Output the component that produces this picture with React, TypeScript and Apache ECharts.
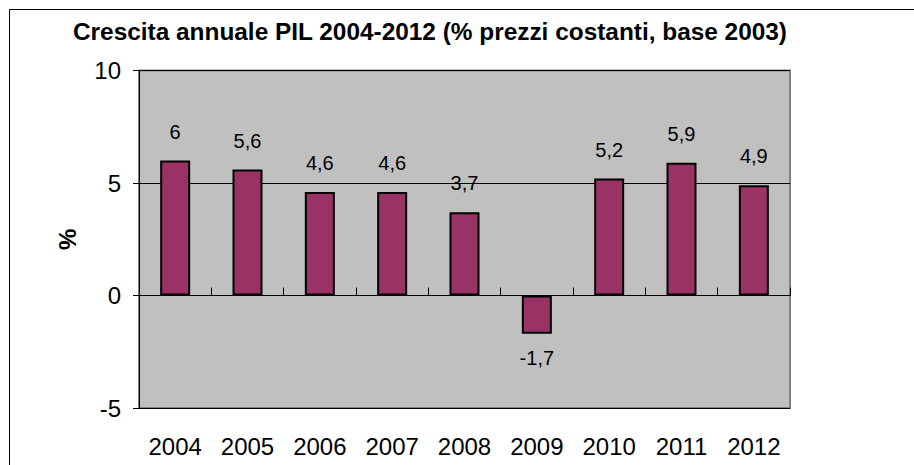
import React, { useEffect, useRef } from "react";
import * as echarts from "echarts";

const titleText = "Crescita annuale PIL 2004-2012 (% prezzi costanti, base 2003)";
const years = ["2004", "2005", "2006", "2007", "2008", "2009", "2010", "2011", "2012"];
const growth = [6, 5.6, 4.6, 4.6, 3.7, -1.7, 5.2, 5.9, 4.9];
const yAxisName = "%";

export default function App() {
  const ref = useRef<HTMLDivElement>(null);
  useEffect(() => {
    if (!ref.current) return;
    const chart = echarts.init(ref.current, undefined, { renderer: "svg" });
    const font = "'Liberation Sans', Arial, sans-serif";
    chart.setOption({
      animation: false,
      backgroundColor: "#ffffff",
      title: {
        text: titleText,
        left: 73,
        top: 19,
        padding: 0,
        textStyle: { fontFamily: font, fontSize: 24.4, fontWeight: "bold", color: "#000" },
      },
      graphic: [
        { type: "line", shape: { x1: 9.5, y1: 9.5, x2: 914, y2: 9.5 }, style: { stroke: "#000", lineWidth: 1 } },
        { type: "line", shape: { x1: 9.5, y1: 9.5, x2: 9.5, y2: 465 }, style: { stroke: "#000", lineWidth: 1 } },
      ],
      grid: {
        left: 139,
        right: 124,
        top: 70.5,
        bottom: 57,
        show: true,
        backgroundColor: "#c0c0c0",
        borderColor: "#808080",
        borderWidth: 2,
      },
      xAxis: [
        {
          type: "category",
          data: years,
          position: "bottom",
          axisLine: { show: false, onZero: false },
          axisTick: { show: false },
          axisLabel: { margin: 26, fontFamily: font, fontSize: 24, color: "#000" },
          splitLine: { show: false },
        },
        {
          type: "category",
          data: years,
          position: "bottom",
          axisLine: { show: true, onZero: true, lineStyle: { color: "#000", width: 1 } },
          axisTick: { show: true, inside: true, length: 8, lineStyle: { color: "#000" } },
          axisLabel: { show: false },
          splitLine: { show: false },
        },
      ],
      yAxis: {
        type: "value",
        min: -5,
        max: 10,
        interval: 5,
        name: yAxisName,
        nameLocation: "middle",
        nameGap: 60,
        nameTextStyle: { fontFamily: font, fontSize: 24, fontWeight: "bold", color: "#000" },
        axisLine: { show: true, lineStyle: { color: "#000", width: 1 } },
        axisTick: { show: true, length: 6, lineStyle: { color: "#000" } },
        axisLabel: { margin: 18, fontFamily: font, fontSize: 24, color: "#000" },
        splitLine: { show: true, lineStyle: { color: "#000", width: 1 } },
      },
      series: [
        {
          type: "bar",
          xAxisIndex: 0,
          barWidth: 30,
          data: growth.map((v) => ({
            value: v,
            label: { position: v < 0 ? "bottom" : "top", distance: v < 0 ? 14 : 19 },
          })),
          itemStyle: { color: "#993366", borderColor: "#000", borderWidth: 2 },
          label: {
            show: true,
            fontFamily: font,
            fontSize: 20,
            color: "#000",
            formatter: (p: any) => String(p.value).replace(".", ","),
          },
        },
      ],
    });
    return () => chart.dispose();
  }, []);
  return (
    <div
      ref={ref}
      style={{ position: "fixed", left: 0, top: 0, width: 914, height: 465 }}
    />
  );
}
